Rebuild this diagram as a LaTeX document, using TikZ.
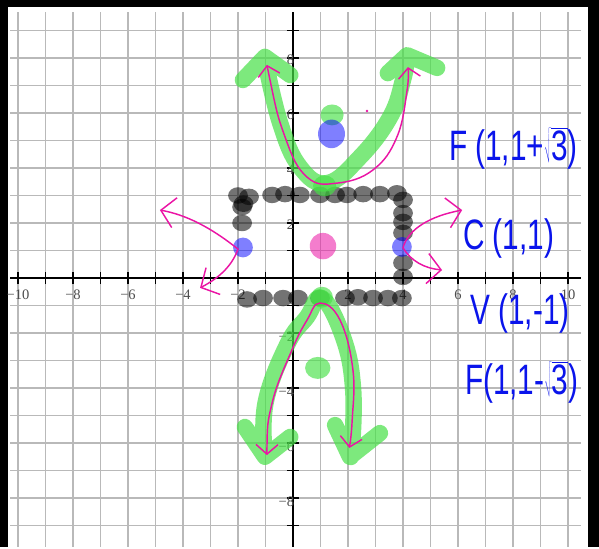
\documentclass[tikz,border=0pt]{standalone}
\usepackage{fontspec}
\newfontfamily\handfont{Liberation Sans}
\newfontfamily\labelfont{Liberation Serif}
\usetikzlibrary{arrows.meta}
\definecolor{penpink}{RGB}{235,20,165}
\definecolor{inkblue}{RGB}{10,20,235}
\definecolor{markgreen}{RGB}{70,225,70}
\tikzset{
    pen/.style={draw=penpink, line width=1.5pt, line cap=round, line join=round},
    marker/.style={draw=markgreen, line width=17pt, line cap=round, line join=round, draw opacity=0.7},
    graydot/.style={fill=black, fill opacity=0.55},
    greendot/.style={fill=markgreen, fill opacity=0.65},
    bluedot/.style={fill=blue, fill opacity=0.5},
    ink/.style={text=inkblue, font=\handfont\fontsize{44}{44}\selectfont, xscale=0.7, inner sep=0pt, anchor=west},
    ticklabel/.style={text=black!70, font=\labelfont\fontsize{15}{15}\selectfont, inner sep=1pt}
}
\newcommand{\gridframe}{
    \fill[black] (-10.655,-9.782) rectangle (11.127,10.109);
    \fill[white] (-10.36,-9.782) rectangle (10.73,9.85);
    \foreach \x in {-10,...,10}
        \draw[gray!55, line width=1.5pt] (\x,-9.782) -- (\x,9.67);
    \foreach \y in {-9,...,9}
        \draw[gray!55, line width=1.5pt] (-10.29,\y) -- (10.47,\y);
    \draw[line width=2.4pt] (-10.29,0) -- (10.47,0);
    \draw[line width=2.4pt] (0,-9.782) -- (0,9.67);
    \foreach \x in {-10,...,10}
        \draw[line width=2pt] (\x,-0.22) -- (\x,0.22);
    \foreach \y in {-9,...,9}
        \draw[line width=2pt] (-0.22,\y) -- (0.22,\y);
    \foreach \x in {2,4,...,10} {
        \node[ticklabel] (xp\x) at (\x,-0.62) {\x};
        \node[ticklabel] (xm\x) at (-\x,-0.62) {−\x};
    }
    \foreach \y in {2,4,6,8} {
        \node[ticklabel, anchor=east] (yp\y) at (0.08,\y-0.05) {\y};
        \node[ticklabel, anchor=east] (ym\y) at (0.08,-\y-0.12) {−\y};
    }
}

\begin{document}
\begin{tikzpicture}[x=1cm,y=1cm]
    \gridframe
    % the box through the vertices
    \foreach \x/\y in {-2.0/3.0,-1.6/2.95,-1.8/2.7,-1.85/2.58,-1.85/2.0,-0.76/3.02,-0.29/3.05,
        0.25/3.02,0.98/3.02,1.53/3.02,1.96/3.02,2.55/3.05,3.16/3.05,3.78/3.08,4.0/2.84,4.0/2.36,
        4.0/2.04,4.0/1.64,4.0/0.55,4.0/0.04,3.96/-0.73,3.45/-0.73,2.91/-0.73,2.36/-0.7,1.89/-0.73,
        0.98/-0.73,0.18/-0.73,-0.36/-0.73,-1.09/-0.73,-1.67/-0.78}
        \fill[graydot] (\x,\y) ellipse (0.36 and 0.3);
    % hyperbola branches
    \draw[marker] plot[smooth, tension=0.7] coordinates {(-1.02,7.93) (-0.47,5.64) (0.25,4.04)
        (1.24,3.45) (2.44,4.4) (3.53,5.85) (4.0,7.2) (4.15,8.04)}
        (-1.82,7.2) -- (-1.02,8.04) -- (-0.1,7.38)
        (3.45,7.45) -- (4.15,8.1) -- (5.24,7.64);
    \draw[marker] plot[smooth, tension=0.7] coordinates {(-1.02,-6.5) (-1.0,-4.55) (-0.2,-2.4)
        (0.51,-1.42) (1.05,-0.73) (1.82,-2.15) (2.18,-3.96) (2.15,-6.15) (2.07,-6.5)}
        (-1.75,-5.42) -- (-1.02,-6.5) -- (-0.1,-5.78)
        (1.53,-5.35) -- (2.07,-6.5) -- (3.16,-5.64);
    \fill[greendot] (1.42,5.93) ellipse (0.42 and 0.38);
    \fill[greendot] (1.15,3.35) ellipse (0.42 and 0.38);
    \fill[greendot] (1.05,-0.7) ellipse (0.4 and 0.38);
    \fill[greendot] (0.9,-3.27) ellipse (0.46 and 0.4);
    \fill[bluedot] (1.4,5.24) ellipse (0.49 and 0.52);
    \fill[bluedot] (-1.82,1.11) circle (0.36);
    \fill[bluedot] (3.96,1.13) circle (0.36);
    \fill[penpink, fill opacity=0.55] (1.09,1.16) circle (0.48);
    \fill[penpink] (2.69,6.07) circle (0.05);
    \coordinate (vl) at (-2.0,1.05);
    \coordinate (vr) at (4.0,1.1);
    \coordinate (ul) at (-4.84,2.47);
    \coordinate (dl) at (-3.38,-0.36);
    \coordinate (ur) at (6.15,2.47);
    \coordinate (dr) at (5.42,0.29);
    \draw[pen, {Straight Barb[length=3.5mm,width=8mm]}-{Straight Barb[length=3.5mm,width=8mm]}]
        plot[smooth, tension=0.7] coordinates {(-0.95,7.75) (-0.29,5.13) (0.51,3.67) (1.6,3.45)
        (2.91,3.93) (3.78,5.13) (4.15,6.84) (4.18,7.67)};
    \draw[pen, {Straight Barb[length=3.5mm,width=8mm]}-{Straight Barb[length=3.5mm,width=8mm]}]
        plot[smooth, tension=0.7] coordinates {(-0.95,-6.44) (-0.76,-4.55) (-0.04,-2.62)
        (0.51,-1.53) (0.98,-0.91) (1.71,-1.53) (2.18,-3.35) (2.15,-5.2) (2.05,-6.18)};
    \draw[pen, -{Straight Barb[length=5mm,width=11mm]}] (vl) .. controls (-3.0,1.85) and (-3.9,2.3) .. (ul);
    \draw[pen, -{Straight Barb[length=5mm,width=11mm]}] (vl) .. controls (-2.2,0.5) and (-2.6,0.05) .. (dl);
    \draw[pen, -{Straight Barb[length=5mm,width=11mm]}] (vr) .. controls (4.2,1.8) and (5.0,2.25) .. (ur);
    \draw[pen, -{Straight Barb[length=5mm,width=11mm]}] (vr) .. controls (4.3,0.6) and (4.8,0.35) .. (dr);
    % labels
    \node[ink] (fup) at (5.67,4.7) {F (1,1+$\sqrt{\mbox{3}}$)};
    \node[ink] (cen) at (6.18,1.45) {C (1,1)};
    \node[ink] (vtx) at (6.44,-1.3) {V (1,-1)};
    \node[ink] (flo) at (6.25,-3.8) {F(1,1-$\sqrt{\mbox{3}}$)};
\end{tikzpicture}
\end{document}
